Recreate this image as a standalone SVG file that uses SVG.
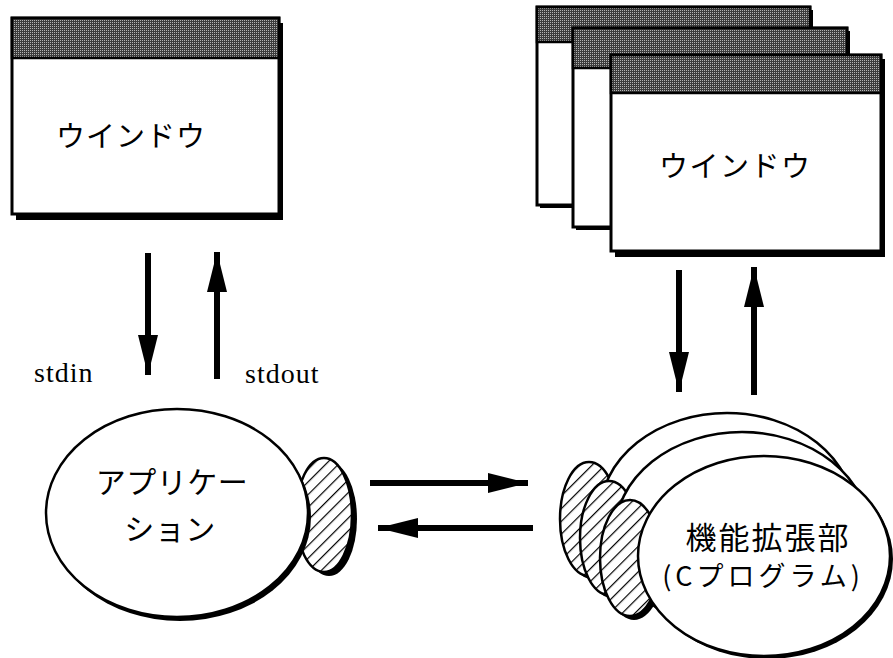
<svg xmlns="http://www.w3.org/2000/svg" width="893" height="658" viewBox="0 0 893 658">
  <defs>
    <pattern id="dither" patternUnits="userSpaceOnUse" width="2" height="2">
      <rect width="2" height="2" fill="#3c3c3c"/>
      <rect width="1" height="1" fill="#b4b4b4"/>
    </pattern>
    <pattern id="hatch" patternUnits="userSpaceOnUse" width="9" height="9" patternTransform="rotate(45)">
      <rect width="9" height="9" fill="#fff"/>
      <line x1="0" y1="0" x2="0" y2="9" stroke="#000" stroke-width="2.4"/>
    </pattern>
    <marker id="head" markerUnits="userSpaceOnUse" viewBox="0 0 40 20" refX="40" refY="10" markerWidth="40" markerHeight="20" orient="auto">
      <path d="M0,0 L40,10 L0,20 z" fill="#000"/>
    </marker>
  </defs>
  <style>
    .shadow { fill: #000; }
    .frame { fill: #fff; stroke: #000; stroke-width: 3; }
    .title { fill: url(#dither); stroke: #000; stroke-width: 2.5; }
    .oval { fill: #fff; stroke: #000; stroke-width: 2.5; }
    .hatched { fill: url(#hatch); stroke: #000; stroke-width: 2.5; }
    .jp { font-family: "Noto Sans CJK JP", "Noto Sans", sans-serif; font-weight: 400; fill: #000; }
    .lat { font-family: "Liberation Serif", "Times New Roman", serif; font-size: 28px; letter-spacing: 1px; fill: #000; }
    .arrow { stroke: #000; stroke-width: 6; fill: none; marker-end: url(#head); }
  </style>

  <!-- left window -->
  <g id="window-left">
    <rect class="shadow" x="16" y="23" width="267" height="197"/>
    <rect class="frame" x="12" y="18" width="267" height="196"/>
    <rect class="title" x="12" y="18" width="267" height="40"/>
    <text class="jp" x="56" y="147" font-size="29" letter-spacing="1">ウインドウ</text>
  </g>

  <!-- stacked windows on the right -->
  <g id="window-back">
    <rect class="shadow" x="540" y="10" width="273" height="198"/>
    <rect class="frame" x="537" y="7" width="273" height="198"/>
    <rect class="title" x="537" y="7" width="273" height="35"/>
  </g>
  <g id="window-middle">
    <rect class="shadow" x="576" y="31" width="274" height="199"/>
    <rect class="frame" x="573" y="28" width="274" height="199"/>
    <rect class="title" x="573" y="28" width="274" height="40"/>
  </g>
  <g id="window-front">
    <rect class="shadow" x="615" y="59" width="270" height="198"/>
    <rect class="frame" x="611" y="55" width="270" height="196"/>
    <rect class="title" x="611" y="55" width="270" height="38"/>
    <text class="jp" x="659" y="177" font-size="29" letter-spacing="1.5">ウインドウ</text>
  </g>

  <!-- application -->
  <g id="application">
    <ellipse class="shadow" cx="329" cy="519" rx="28" ry="57"/>
    <ellipse class="hatched" cx="324" cy="515" rx="28" ry="57"/>
    <ellipse class="shadow" cx="180" cy="517" rx="131" ry="104"/>
    <ellipse class="oval" cx="177" cy="513" rx="131" ry="104"/>
    <text class="jp" x="172" y="493" font-size="30" letter-spacing="0.5" text-anchor="middle">アプリケー</text>
    <text class="jp" x="170" y="540" font-size="30" letter-spacing="0.5" text-anchor="middle">ション</text>
  </g>

  <!-- extension modules -->
  <g id="extension">
    <ellipse class="shadow" cx="592" cy="522" rx="29" ry="57"/>
    <ellipse class="hatched" cx="589" cy="519" rx="29" ry="57"/>
    <ellipse class="shadow" cx="730" cy="517" rx="127" ry="101"/>
    <ellipse class="oval" cx="727" cy="514" rx="127" ry="101"/>
    <ellipse class="shadow" cx="612" cy="541" rx="29" ry="57"/>
    <ellipse class="hatched" cx="609" cy="538" rx="29" ry="57"/>
    <ellipse class="shadow" cx="745" cy="536" rx="127" ry="101"/>
    <ellipse class="oval" cx="742" cy="533" rx="127" ry="101"/>
    <ellipse class="shadow" cx="634" cy="562" rx="30" ry="58"/>
    <ellipse class="hatched" cx="630" cy="558" rx="30" ry="58"/>
    <ellipse class="shadow" cx="767" cy="559" rx="126" ry="100"/>
    <ellipse class="oval" cx="764" cy="556" rx="126" ry="100"/>
    <text class="jp" x="768" y="549" font-size="31" letter-spacing="2" text-anchor="middle">機能拡張部</text>
    <text class="jp" x="763" y="586" font-size="27" letter-spacing="4" text-anchor="middle">(Cプログラム)</text>
  </g>

  <!-- data flow -->
  <g id="connectors">
    <line class="arrow" x1="148" y1="253" x2="148" y2="375"/>
    <line class="arrow" x1="217" y1="379" x2="217" y2="252"/>
    <line class="arrow" x1="679" y1="270" x2="679" y2="392"/>
    <line class="arrow" x1="754" y1="395" x2="754" y2="267"/>
    <line class="arrow" x1="370" y1="483" x2="528" y2="483"/>
    <line class="arrow" x1="533" y1="528" x2="378" y2="528"/>
    <text class="lat" x="34" y="382">stdin</text>
    <text class="lat" x="245" y="383">stdout</text>
  </g>
</svg>
